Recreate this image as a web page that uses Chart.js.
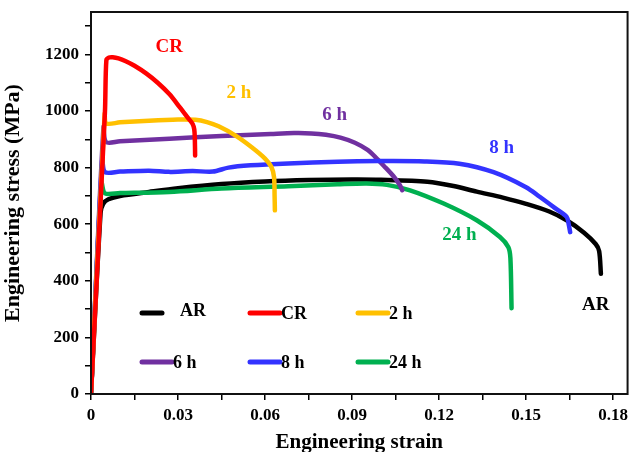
<!DOCTYPE html>
<html>
<head>
<meta charset="utf-8">
<script src="https://cdn.jsdelivr.net/npm/chart.js@4/dist/chart.umd.min.js"></script>
<style>
  html, body { margin: 0; padding: 0; background: #fff; }
  #wrap { width: 633px; height: 452px; }
</style>
</head>
<body>
<div id="wrap"><canvas id="chart" width="633" height="452"></canvas></div>
<script>
// series names and tick values ==================
var seriesNames = ["AR", "CR", "2 h", "6 h", "8 h", "24 h"];
var xTicks = [0, 0.015, 0.03, 0.045, 0.06, 0.075, 0.09, 0.105, 0.12, 0.135, 0.15, 0.165, 0.18];
var xTickLabels = ["0", "", "0.03", "", "0.06", "", "0.09", "", "0.12", "", "0.15", "", "0.18"];
var yTicks = [0, 100, 200, 300, 400, 500, 600, 700, 800, 900, 1000, 1100, 1200, 1300];
var yTickLabels = ["0", "", "200", "", "400", "", "600", "", "800", "", "1000", "", "1200", ""];

// curves (strain, stress MPa) =======================================
var arStrain = [0, 0.0033, 0.0042, 0.006, 0.01, 0.02, 0.03, 0.045, 0.06, 0.075, 0.09, 0.1, 0.116, 0.125, 0.133, 0.142, 0.15, 0.158, 0.164, 0.17, 0.174, 0.1752, 0.1758];
var arStress = [0, 640, 672, 688, 700, 714, 727, 742, 751, 756, 758, 757, 750, 735, 715, 694, 672, 645, 614, 570, 530, 505, 425];

var crStrain = [0, 0.0048, 0.0053, 0.0062, 0.0075, 0.0095, 0.012, 0.015, 0.019, 0.023, 0.027, 0.0305, 0.0335, 0.035, 0.0356, 0.0358, 0.0359];
var crStress = [0, 995, 1180, 1189, 1190, 1186, 1176, 1160, 1133, 1100, 1060, 1015, 975, 955, 935, 900, 843];

var h2Strain = [0, 0.0047, 0.0053, 0.01, 0.02, 0.03, 0.036, 0.04, 0.044, 0.0497, 0.0553, 0.06, 0.0622, 0.0631, 0.0633, 0.0634];
var h2Stress = [0, 990, 956, 960, 966, 970, 969, 961, 946, 914, 873, 832, 802, 767, 700, 649];

var h6Strain = [0, 0.0043, 0.0052, 0.01, 0.027, 0.045, 0.062, 0.07, 0.076, 0.081, 0.086, 0.091, 0.0955, 0.0978, 0.101, 0.1045, 0.1065, 0.1073];
var h6Stress = [0, 943, 890, 893, 902, 912, 919, 922, 921, 916, 906, 888, 862, 840, 806, 767, 738, 720];

var h8Strain = [0, 0.0039, 0.0048, 0.01, 0.02, 0.027, 0.035, 0.042, 0.0474, 0.055, 0.068, 0.085, 0.099, 0.115, 0.127, 0.1388, 0.15, 0.1547, 0.16, 0.164, 0.1647, 0.1652];
var h8Stress = [0, 833, 784, 786, 789, 785, 788, 786, 800, 808, 815, 821, 823, 822, 814, 784, 731, 697, 657, 626, 600, 572];

var h24Strain = [0, 0.0036, 0.0048, 0.01, 0.027, 0.045, 0.068, 0.085, 0.095, 0.102, 0.11, 0.1216, 0.133, 0.141, 0.1439, 0.1446, 0.145];
var h24Stress = [0, 748, 709, 710, 714, 726, 734, 741, 744, 739, 720, 673, 614, 555, 519, 480, 303];

var seriesColors = ["#000000", "#FF0000", "#FFC000", "#7030A0", "#3333FF", "#00B050"];

function toPoints(xs, ys) {
  return xs.map(function (x, i) { return { x: x, y: ys[i] }; });
}
var allStrain = [arStrain, crStrain, h2Strain, h6Strain, h8Strain, h24Strain];
var allStress = [arStress, crStress, h2Stress, h6Stress, h8Stress, h24Stress];
// draw order: CR on top, AR at the bottom
var drawOrder = [5, 0, 1, 3, 2, 4];

var serif = "'Liberation Serif', 'Times New Roman', serif";

// labels next to the curves, placed in data units
var curveLabels = [
  { text: "CR", x: 0.027, y: 1225, color: "#FF0000" },
  { text: "2 h", x: 0.051, y: 1062, color: "#FFC000" },
  { text: "6 h", x: 0.084, y: 985, color: "#7030A0" },
  { text: "8 h", x: 0.1416, y: 870, color: "#3333FF" },
  { text: "24 h", x: 0.127, y: 560, color: "#00B050" },
  { text: "AR", x: 0.174, y: 314, color: "#000000" },
];

// plugin block: frame, curve labels, legend
const frameAndLabels = {
  id: "frameAndLabels",
  afterDatasetsDraw(chart) {
    const { ctx, chartArea: { top, bottom, left, right }, scales: { x, y } } = chart;
    ctx.save();
    ctx.strokeStyle = "#111";
    ctx.lineWidth = 2;
    ctx.strokeRect(left, top, right - left, bottom - top);

    ctx.font = "bold 19px " + serif;
    ctx.textAlign = "center";
    ctx.textBaseline = "middle";
    curveLabels.forEach(function (l) {
      ctx.fillStyle = l.color;
      ctx.fillText(l.text, x.getPixelForValue(l.x), y.getPixelForValue(l.y));
    });

    // legend 3 x 2
    const cols = [142, 250, 358];
    const rows = [313, 362];
    ctx.font = "bold 18px " + serif;
    ctx.textAlign = "left";
    ctx.lineCap = "round";
    ctx.lineWidth = 5;
    seriesNames.forEach(function (name, i) {
      const cx = cols[i % 3];
      const cy = rows[Math.floor(i / 3)];
      const len = i === 0 ? 20 : 30;
      ctx.strokeStyle = seriesColors[i];
      ctx.beginPath();
      ctx.moveTo(cx, cy);
      ctx.lineTo(cx + len, cy);
      ctx.stroke();
      ctx.fillStyle = "#000";
      ctx.fillText(name, i === 0 ? 180 : cx + 31, i === 0 ? cy - 2 : cy + 1);
    });
    ctx.restore();
  },
};

const datasets = seriesNames.map(function (name, i) {
  return {
    label: name,
    data: toPoints(allStrain[i], allStress[i]),
    borderColor: seriesColors[i],
    backgroundColor: seriesColors[i],
    borderWidth: 4.5,
    borderJoinStyle: "round",
    borderCapStyle: "round",
    pointRadius: 0,
    tension: 0.3,
    fill: false,
    order: drawOrder[i],
  };
});

// config
const config = {
  type: "line",
  data: { datasets: datasets },
  options: {
    responsive: false,
    animation: false,
    layout: { padding: { top: 12, right: 2, left: 0, bottom: 0 } },
    plugins: {
      legend: { display: false },
      tooltip: { enabled: false },
    },
    scales: {
      x: {
        type: "linear",
        min: 0,
        max: 0.185,
        afterBuildTicks: function (scale) {
          scale.ticks = xTicks.map(function (v) { return { value: v }; });
        },
        afterFit: function (scale) { scale.height = 58; },
        ticks: {
          autoSkip: false,
          maxRotation: 0,
          padding: 5,
          color: "#000",
          font: { family: serif, size: 17, weight: "bold" },
          callback: function (v, i) { return xTickLabels[i]; },
        },
        grid: { drawOnChartArea: false, drawTicks: true, tickLength: 6, color: "#000", lineWidth: 1.5 },
        border: { display: false },
        title: {
          display: true,
          text: "Engineering strain",
          color: "#000",
          font: { family: serif, size: 21, weight: "bold" },
          padding: { top: 0, bottom: -3 },
        },
      },
      y: {
        type: "linear",
        min: 0,
        max: 1350,
        afterBuildTicks: function (scale) {
          scale.ticks = yTicks.map(function (v) { return { value: v }; });
        },
        afterFit: function (scale) {
          scale.width = 91;
          scale.paddingTop = 0;
          scale.paddingBottom = 0;
        },
        ticks: {
          autoSkip: false,
          padding: 6,
          color: "#000",
          font: { family: serif, size: 17, weight: "bold" },
          callback: function (v, i) { return yTickLabels[i]; },
        },
        grid: { drawOnChartArea: false, drawTicks: true, tickLength: 6, color: "#000", lineWidth: 1.5 },
        border: { display: false },
        title: {
          display: true,
          text: "Engineering stress (MPa)",
          color: "#000",
          font: { family: serif, size: 22, weight: "bold" },
          padding: { top: 0, bottom: 4 },
        },
      },
    },
  },
  plugins: [frameAndLabels],
};

// render
const myChart = new Chart(document.getElementById("chart"), config);
</script>
</body>
</html>
